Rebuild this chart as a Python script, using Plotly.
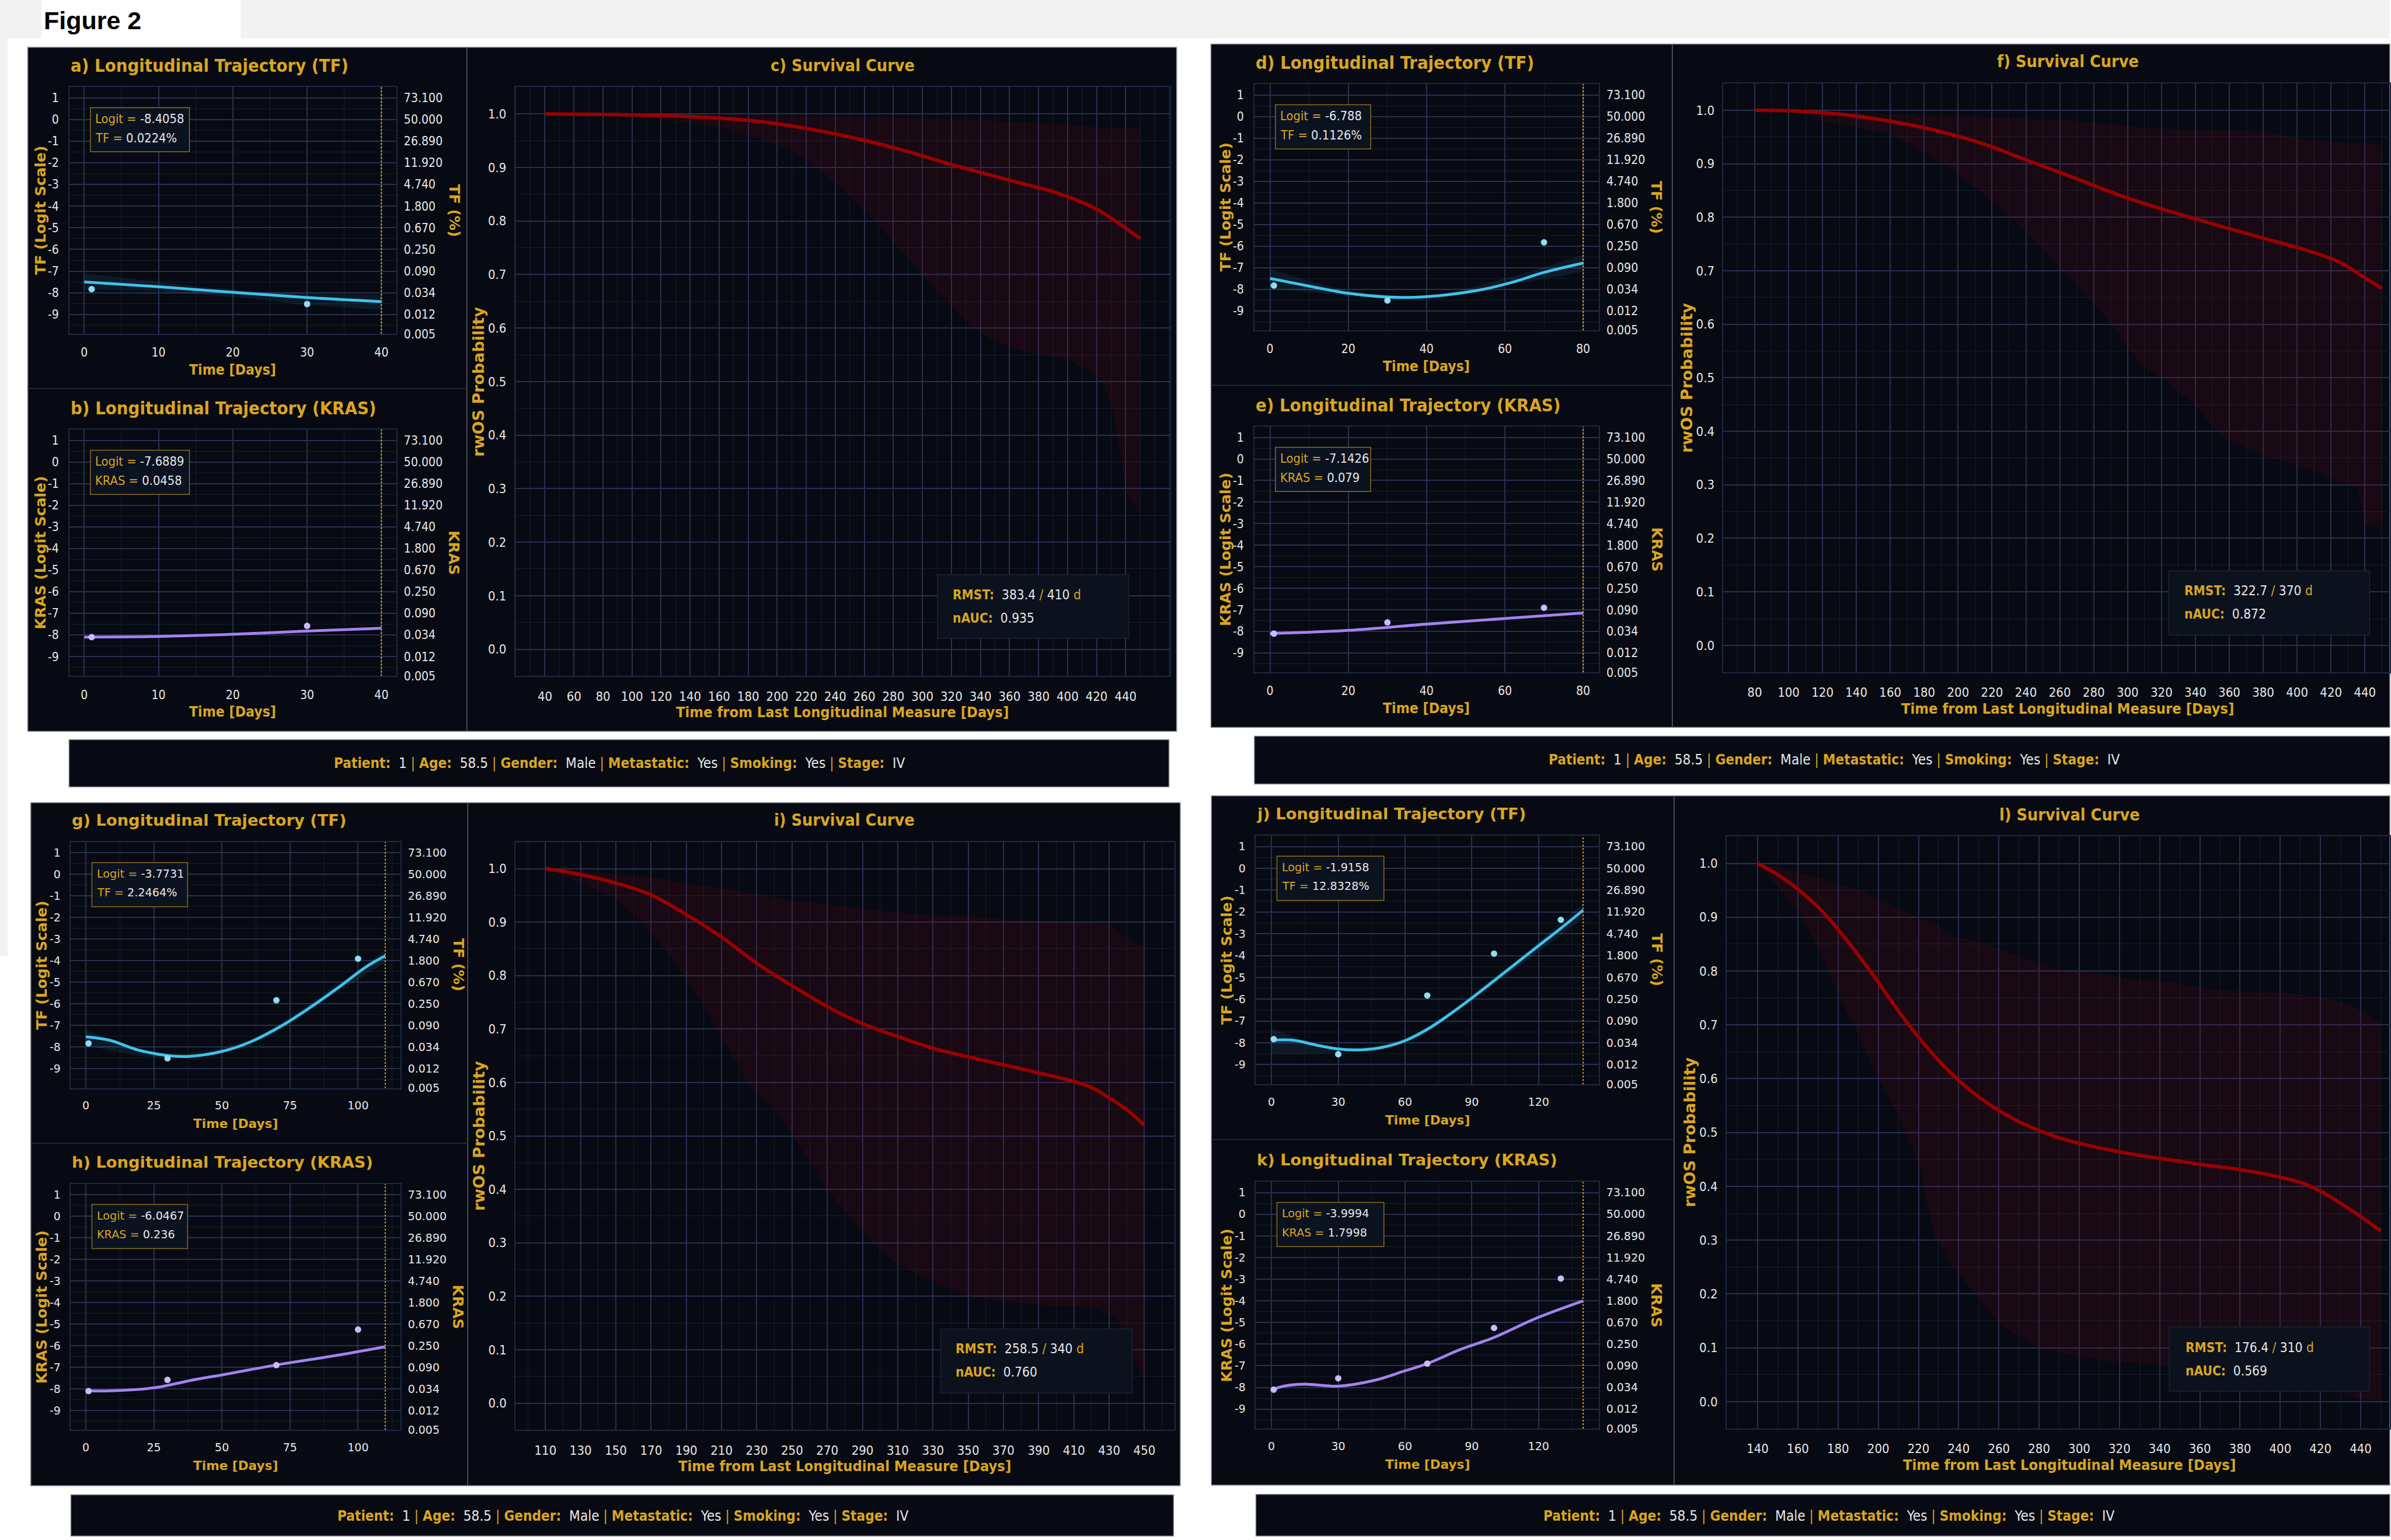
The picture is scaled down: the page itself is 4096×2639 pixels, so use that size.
import subprocess
import plotly.graph_objects as go

# ======================= DATA =======================
# shared observations of the same patient (logit scale)
OBS_DAYS = [1, 30, 70, 100, 130]
OBS_TF = [-7.83, -8.52, -5.83, -3.91, -2.36]
OBS_KRAS = [-8.10, -7.58, -6.90, -5.25, -2.97]
N_OBS = [2, 3, 4, 5]            # observations available in each landmark panel
T_END = [40, 80, 110, 140]      # last longitudinal measure (dotted line)

# fitted trajectories (logit)
A_TF_DAYS = [0, 10, 20, 30, 40]
A_TF_FIT = [-7.50, -7.72, -7.98, -8.22, -8.41]
A_TF_LO = [-7.85, -7.95, -8.20, -8.55, -8.78]
A_TF_HI = [-7.10, -7.50, -7.85, -8.05, -8.10]
B_KRAS_DAYS = [0, 10, 20, 30, 40]
B_KRAS_FIT = [-8.10, -8.07, -7.97, -7.82, -7.69]

D_TF_DAYS = [0, 11, 20, 30, 37, 45, 54, 62, 70, 80]
D_TF_FIT = [-7.50, -7.89, -8.19, -8.36, -8.37, -8.26, -8.02, -7.67, -7.22, -6.79]
D_TF_BAND_DAYS = [0, 20, 40, 60, 80]
D_TF_LO = [-7.95, -8.30, -8.47, -7.85, -7.20]
D_TF_HI = [-7.05, -8.05, -8.27, -7.50, -6.40]
E_KRAS_DAYS = [0, 20, 40, 60, 80]
E_KRAS_FIT = [-8.10, -7.95, -7.66, -7.40, -7.14]

G_TF_DAYS = [0, 9, 19, 30, 38, 51, 61, 72, 82, 93, 103, 110]
G_TF_FIT = [-7.52, -7.69, -8.13, -8.39, -8.43, -8.17, -7.73, -7.01, -6.20, -5.22, -4.28, -3.77]
G_TF_BAND_DAYS = [0, 30, 60, 90, 110]
G_TF_LO = [-7.90, -8.50, -7.90, -5.65, -4.10]
G_TF_HI = [-7.20, -8.28, -7.65, -5.30, -3.50]
H_KRAS_DAYS = [0, 9, 25, 40, 51, 70, 82, 93, 110]
H_KRAS_FIT = [-8.08, -8.09, -7.95, -7.57, -7.33, -6.89, -6.65, -6.43, -6.05]

J_TF_DAYS = [0, 10, 20, 30, 40, 50, 60, 70, 80, 90, 100, 110, 120, 130, 140]
J_TF_FIT = [-7.88, -7.88, -8.10, -8.28, -8.32, -8.20, -7.90, -7.38, -6.70, -5.95,
            -5.15, -4.35, -3.55, -2.75, -1.92]
J_TF_BAND_DAYS = [0, 30, 60, 100, 140]
J_TF_LO = [-8.50, -8.45, -8.02, -5.30, -2.30]
J_TF_HI = [-7.35, -8.18, -7.78, -5.00, -1.60]
K_KRAS_DAYS = [0, 5.5, 15, 30, 46, 60, 70, 85, 100, 119, 140]
K_KRAS_FIT = [-8.12, -7.94, -7.85, -7.94, -7.68, -7.23, -6.90, -6.24, -5.69, -4.80, -4.00]

# survival curves with confidence band
C_DAYS = [40, 80, 119, 161, 199, 241, 280, 322, 360, 392, 418, 434, 450]
C_SURV = [1.000, 0.999, 0.997, 0.992, 0.982, 0.962, 0.937, 0.904, 0.876, 0.853, 0.825, 0.798, 0.767]
C_UP_DAYS = [40, 119, 241, 296, 344, 392, 424, 450]
C_UP = [1.000, 0.998, 0.996, 0.992, 0.988, 0.982, 0.974, 0.973]
C_LO_DAYS = [40, 119, 161, 193, 219, 241, 264, 283, 309, 334, 350, 370, 402, 424, 431, 441, 450]
C_LO = [1.000, 0.991, 0.974, 0.950, 0.919, 0.868, 0.810, 0.751, 0.673, 0.603, 0.575, 0.556, 0.540, 0.503, 0.447, 0.294, 0.249]

F_DAYS = [80, 101, 132, 159, 187, 215, 242, 270, 298, 325, 353, 380, 408, 425, 439, 450]
F_SURV = [1.000, 0.999, 0.992, 0.980, 0.962, 0.937, 0.905, 0.872, 0.838, 0.811, 0.785, 0.761, 0.736, 0.716, 0.689, 0.667]
F_UP_DAYS = [80, 104, 132, 159, 198, 242, 270, 298, 311, 353, 380, 408, 450]
F_UP = [1.000, 0.999, 0.996, 0.9925, 0.989, 0.984, 0.980, 0.972, 0.966, 0.964, 0.960, 0.944, 0.935]
F_LO_DAYS = [80, 104, 126, 159, 176, 198, 220, 237, 256, 275, 292, 309, 320, 339, 356, 381, 408, 419, 436, 440, 448, 450]
F_LO = [1.000, 0.996, 0.976, 0.956, 0.929, 0.885, 0.830, 0.783, 0.720, 0.657, 0.594, 0.520, 0.500, 0.450, 0.389, 0.354, 0.329, 0.313, 0.293, 0.227, 0.222, 0.186]

I_DAYS = [110, 130, 150, 170, 190, 210, 230, 250, 270, 290, 310, 330, 350, 370, 390, 410, 421, 430, 440, 450]
I_SURV = [1.000, 0.989, 0.973, 0.951, 0.914, 0.872, 0.823, 0.781, 0.742, 0.710, 0.686, 0.664, 0.648, 0.633, 0.618, 0.602, 0.589, 0.571, 0.549, 0.520]
I_UP_DAYS = [110, 130, 150, 170, 190, 210, 230, 250, 270, 290, 310, 330, 350, 370, 390, 410, 430, 437, 450]
I_UP = [1.000, 0.996, 0.989, 0.984, 0.973, 0.963, 0.953, 0.940, 0.934, 0.925, 0.918, 0.913, 0.912, 0.905, 0.902, 0.900, 0.898, 0.876, 0.854]
I_LO_DAYS = [110, 130, 150, 165, 180, 194, 210, 225, 241, 257, 273, 289, 305, 321, 337, 350, 370, 390, 410, 421, 435, 444, 450]
I_LO = [1.000, 0.973, 0.943, 0.898, 0.841, 0.775, 0.686, 0.598, 0.545, 0.465, 0.386, 0.324, 0.271, 0.240, 0.218, 0.200, 0.191, 0.184, 0.182, 0.178, 0.157, 0.085, 0.040]

L_DAYS = [140, 150, 160, 170, 180, 190, 200, 210, 220, 230, 240, 250, 260, 270, 280, 290, 300, 320, 340, 360, 380, 400, 411, 420, 431, 440, 450]
L_SURV = [1.000, 0.979, 0.952, 0.919, 0.877, 0.830, 0.779, 0.726, 0.677, 0.634, 0.597, 0.566, 0.541, 0.520, 0.504, 0.490, 0.480, 0.464, 0.452, 0.441, 0.431, 0.417, 0.406, 0.391, 0.366, 0.344, 0.317]
L_UP_DAYS = [140, 150, 160, 170, 180, 190, 200, 210, 220, 230, 234, 250, 270, 290, 310, 320, 329, 340, 360, 369, 400, 420, 434, 450]
L_UP = [1.000, 0.992, 0.983, 0.974, 0.961, 0.952, 0.934, 0.917, 0.899, 0.885, 0.868, 0.854, 0.828, 0.801, 0.797, 0.788, 0.783, 0.783, 0.770, 0.764, 0.761, 0.752, 0.739, 0.703]
L_LO_DAYS = [140, 150, 160, 170, 180, 190, 200, 210, 220, 228, 238, 250, 260, 270, 280, 290, 310, 340, 360, 380, 400, 420, 439, 450]
L_LO = [1.000, 0.956, 0.912, 0.841, 0.757, 0.681, 0.601, 0.530, 0.441, 0.308, 0.246, 0.193, 0.144, 0.122, 0.100, 0.091, 0.077, 0.068, 0.064, 0.058, 0.051, 0.033, 0.006, 0.002]

SURV_TICK_START = [40, 80, 110, 140]
SURV_TICK_END = [440, 440, 450, 440]

# text content
INFO_KEYS = ['Patient', 'Age', 'Gender', 'Metastatic', 'Smoking', 'Stage']
INFO_VALS = ['1', '58.5', 'Male', 'Yes', 'Yes', 'IV']
RMST = ['383.4', '322.7', '258.5', '176.4']
HORIZON = ['410', '370', '340', '310']
NAUC = ['0.935', '0.872', '0.760', '0.569']
TF_LAST_LOGIT = ['-8.4058', '-6.788', '-3.7731', '-1.9158']
TF_LAST_PCT = ['0.0224%', '0.1126%', '2.2464%', '12.8328%']
KRAS_LAST_LOGIT = ['-7.6889', '-7.1426', '-6.0467', '-3.9994']
KRAS_LAST_VAL = ['0.0458', '0.079', '0.236', '1.7998']
LEFT_TICK_VALS = [1, 0, -1, -2, -3, -4, -5, -6, -7, -8, -9]
LEFT_TICK_TEXT = ['1', '0', '-1', '-2', '-3', '-4', '-5', '-6', '-7', '-8', '-9']
RIGHT_TICK_VALS = [1, 0, -1, -2, -3, -4, -5, -6, -7, -8, -9, -9.899]
RIGHT_TICK_TEXT = ['73.100', '50.000', '26.890', '11.920', '4.740', '1.800', '0.670',
                   '0.250', '0.090', '0.034', '0.012', '0.005']
LETTERS = [('a', 'b', 'c'), ('d', 'e', 'f'), ('g', 'h', 'i'), ('j', 'k', 'l')]

# ======================= STYLE / LAYOUT =======================
W, H = 4096, 2639
RW, RH = 1568.0, 1010.0   # layout grid in reference-view units


def fx(x):
    return x / RW


def fy(y):
    return 1 - y / RH


def has_font(name):
    try:
        out = subprocess.run(['fc-list', ':', 'family'], capture_output=True,
                             text=True, timeout=20).stdout.lower()
        return name.lower() in out
    except Exception:
        return False


COND = has_font('DejaVu Sans Condensed')
K = 1.1 if COND else 1.0
FAM_C = 'DejaVu Sans Condensed' if COND else 'DejaVu Sans'
FAM_N = 'DejaVu Sans'

BG = '#070a12'
GOLD = '#daa520'
WHITE = '#e8e8e8'
GRID = '#28304e'
GRID_MINOR = '#161c2d'
FRAME = '#1f2842'
TF_LINE = '#3ec3ea'
TF_DOT = '#8fdcf4'
TF_BAND = 'rgba(70,170,230,0.10)'
KR_LINE = '#a283f0'
KR_DOT = '#cbbafc'
SURV_LINE = '#990000'
SURV_FILL = 'rgba(140,10,30,0.13)'

STY_TOP = dict(fam=FAM_C, title=28 * K, tick=19.2 * K, xtitle=22.4 * K, box=19.8 * K)
STY_BOT = dict(fam=FAM_N, title=27.3, tick=19.0, xtitle=21.6, box=19.2)
VT = 25
SV = dict(fam=FAM_C, title=26 * K, tick=20 * K, xtitle=23 * K, ytitle=27, rmst=20.5 * K)
BAR_SIZE = 22 * K

GEOM = [
    dict(bg=(18.2, 31.1, 772.0, 481.8), vdiv=306.3, hdiv=256.0,
         tf=(45.5, 57.3, 260.0, 220.0), kr=(45.5, 283.0, 260.0, 445.4),
         sv=(338.0, 57.4, 767.6, 445.4), sv_cx=552.8,
         bar=(45.3, 487.3, 767.0, 518.5), bar_text=(406.2, 503.0),
         rmst_box=(615.0, 378.6, 740.6, 420.5), rmst_text=(624.2, 391.6, 407.2),
         boxw=65.0, sty=STY_TOP, xr=[-2, 42], dtick=10, sxr=[19.5, 470.5]),
    dict(bg=(794.5, 29.0, 1568.0, 479.2), vdiv=1097.2, hdiv=253.8,
         tf=(823.0, 55.4, 1049.0, 217.6), kr=(823.0, 281.1, 1049.0, 443.0),
         sv=(1130.7, 55.0, 1568.0, 442.8), sv_cx=1356.7,
         bar=(823.0, 485.0, 1568.0, 516.5), bar_text=(1203.5, 500.5),
         rmst_box=(1423.0, 376.0, 1554.7, 418.3), rmst_text=(1432.3, 389.0, 404.4),
         boxw=62.5, sty=STY_TOP, xr=[-4, 84], dtick=20, sxr=[61.5, 454.7]),
    dict(bg=(20.2, 528.8, 774.4, 978.9), vdiv=306.9, hdiv=753.3,
         tf=(46.5, 554.7, 262.6, 716.9), kr=(46.5, 779.9, 262.6, 942.1),
         sv=(338.2, 554.7, 770.5, 942.1), sv_cx=554.1,
         bar=(46.5, 984.8, 770.0, 1012.0), bar_text=(408.7, 998.9),
         rmst_box=(617.2, 875.6, 742.8, 917.8), rmst_text=(626.3, 888.5, 904.0),
         boxw=62.8, sty=STY_BOT, xr=[-5.5, 115.5], dtick=25, sxr=[93.0, 467.0]),
    dict(bg=(794.8, 524.3, 1568.0, 978.5), vdiv=1098.4, hdiv=750.8,
         tf=(824.0, 550.5, 1048.9, 714.4), kr=(824.0, 778.6, 1048.9, 941.2),
         sv=(1132.8, 551.1, 1568.0, 941.2), sv_cx=1357.8,
         bar=(824.0, 984.5, 1568.0, 1012.0), bar_text=(1200.0, 998.9),
         rmst_box=(1423.3, 874.3, 1554.7, 916.6), rmst_text=(1433.2, 887.6, 903.3),
         boxw=70.2, sty=STY_BOT, xr=[-7, 147], dtick=30, sxr=[124.5, 454.5]),
]

TF_SERIES = [
    (A_TF_DAYS, A_TF_FIT, A_TF_DAYS, A_TF_LO, A_TF_HI),
    (D_TF_DAYS, D_TF_FIT, D_TF_BAND_DAYS, D_TF_LO, D_TF_HI),
    (G_TF_DAYS, G_TF_FIT, G_TF_BAND_DAYS, G_TF_LO, G_TF_HI),
    (J_TF_DAYS, J_TF_FIT, J_TF_BAND_DAYS, J_TF_LO, J_TF_HI),
]
KRAS_SERIES = [(B_KRAS_DAYS, B_KRAS_FIT), (E_KRAS_DAYS, E_KRAS_FIT),
               (H_KRAS_DAYS, H_KRAS_FIT), (K_KRAS_DAYS, K_KRAS_FIT)]
SURV_SERIES = [
    (C_DAYS, C_SURV, C_UP_DAYS, C_UP, C_LO_DAYS, C_LO),
    (F_DAYS, F_SURV, F_UP_DAYS, F_UP, F_LO_DAYS, F_LO),
    (I_DAYS, I_SURV, I_UP_DAYS, I_UP, I_LO_DAYS, I_LO),
    (L_DAYS, L_SURV, L_UP_DAYS, L_UP, L_LO_DAYS, L_LO),
]

# ======================= BUILD =======================
fig = go.Figure()
layout = dict(width=W, height=H, margin=dict(l=0, r=0, t=0, b=0),
              paper_bgcolor='white', plot_bgcolor=BG, showlegend=False)
shapes, annotations = [], []
counter = {'x': 0, 'y': 0}


def nid(kind):
    counter[kind] += 1
    n = counter[kind]
    return (kind if n == 1 else f'{kind}{n}'), (f'{kind}axis' if n == 1 else f'{kind}axis{n}')


def rect(x0, y0, x1, y1, fill, line=None, lw=0, layer='below'):
    shapes.append(dict(type='rect', xref='paper', yref='paper',
                       x0=fx(x0), x1=min(1.0, fx(x1)), y0=fy(y1), y1=fy(y0),
                       fillcolor=fill, line=dict(color=line or fill, width=lw), layer=layer))


def hline(x0, x1, y, color, lw=1.5):
    shapes.append(dict(type='line', xref='paper', yref='paper', x0=fx(x0), x1=min(1.0, fx(x1)),
                       y0=fy(y), y1=fy(y), line=dict(color=color, width=lw), layer='below'))


def vline(x, y0, y1, color, lw=1.5):
    shapes.append(dict(type='line', xref='paper', yref='paper', x0=fx(x), x1=fx(x),
                       y0=fy(y0), y1=fy(y1), line=dict(color=color, width=lw), layer='below'))


def text(x, y, s, size, fam, color=WHITE, xanchor='center', yanchor='middle', angle=0):
    annotations.append(dict(x=fx(x), y=fy(y), xref='paper', yref='paper', text=s,
                            showarrow=False, xanchor=xanchor, yanchor=yanchor,
                            textangle=angle, font=dict(family=fam, size=size, color=color)))


def gold(s):
    return f"<span style='color:{GOLD}'>{s}</span>"


def add_long(box, xr, dtick, fit_x, fit_y, obs_x, obs_y, line_col, dot_col, t_end,
             title, ytitle, rtitle, info1, info2, box_w, sty, band=None):
    x0, y0, x1, y1 = box
    xref, xkey = nid('x')
    yref, ykey = nid('y')
    y2ref, y2key = nid('y')
    tfont = dict(family=sty['fam'], size=sty['tick'], color=WHITE)
    layout[xkey] = dict(domain=[fx(x0), fx(x1)], range=xr, anchor=yref,
                        tickmode='linear', tick0=0, dtick=dtick, ticks='', ticklabelstandoff=12,
                        tickfont=tfont, showgrid=True, gridcolor=GRID, gridwidth=1.6,
                        minor=dict(tickmode='linear', tick0=0, dtick=dtick / 2, showgrid=True,
                                   gridcolor=GRID_MINOR, gridwidth=1),
                        showline=True, mirror=True, linecolor=FRAME, linewidth=1.5, zeroline=False)
    layout[ykey] = dict(domain=[fy(y1), fy(y0)], range=[-9.9, 1.5], anchor=xref,
                        tickmode='array', tickvals=LEFT_TICK_VALS, ticktext=LEFT_TICK_TEXT,
                        ticks='', ticklabelstandoff=12,
                        tickfont=tfont, showgrid=True, gridcolor=GRID, gridwidth=1.6,
                        minor=dict(tickmode='linear', tick0=0, dtick=0.5, showgrid=True,
                                   gridcolor=GRID_MINOR, gridwidth=1),
                        showline=True, mirror=True, linecolor=FRAME, linewidth=1.5, zeroline=False)
    layout[y2key] = dict(domain=[fy(y1), fy(y0)], range=[-9.9, 1.5], anchor=xref,
                         overlaying=yref, side='right', tickmode='array',
                         tickvals=RIGHT_TICK_VALS, ticktext=RIGHT_TICK_TEXT, ticks='',
                         ticklabelstandoff=12, tickfont=tfont, showgrid=False,
                         showline=False, zeroline=False)
    if band is not None:
        bx, blo, bhi = band
        fig.add_trace(go.Scatter(x=bx, y=bhi, mode='lines', line=dict(width=0, shape='spline'),
                                 xaxis=xref, yaxis=yref, hoverinfo='skip'))
        fig.add_trace(go.Scatter(x=bx, y=blo, mode='lines', line=dict(width=0, shape='spline'),
                                 fill='tonexty', fillcolor=TF_BAND,
                                 xaxis=xref, yaxis=yref, hoverinfo='skip'))
    fig.add_trace(go.Scatter(x=fit_x, y=fit_y, mode='lines',
                             line=dict(color=line_col, width=4.8, shape='spline'),
                             xaxis=xref, yaxis=yref))
    fig.add_trace(go.Scatter(x=obs_x, y=obs_y, mode='markers',
                             marker=dict(color=dot_col, size=11, line=dict(width=0)),
                             xaxis=xref, yaxis=yref))
    fig.add_trace(go.Scatter(x=[t_end, t_end], y=[-9.9, 1.5], mode='lines',
                             line=dict(color=GOLD, width=2, dash='dot'),
                             xaxis=xref, yaxis=y2ref))
    # titles
    text(x0, y0 - 14.3, f'<b>{title}</b>', sty['title'], sty['fam'], GOLD, xanchor='left')
    text(x0 - 19.0, (y0 + y1) / 2, f'<b>{ytitle}</b>', VT, FAM_N, GOLD, angle=-90)
    text(x1 + 38.0, (y0 + y1) / 2, f'<b>{rtitle}</b>', VT, FAM_N, GOLD, angle=90)
    text((x0 + x1) / 2, y1 + 23.5, '<b>Time [Days]</b>', sty['xtitle'], sty['fam'], GOLD)
    # value box
    rect(x0 + 13.8, y0 + 13.6, x0 + 13.8 + box_w, y0 + 42.7, '#0b1220', '#8c6d1f', 1.5, layer='above')
    text(x0 + 16.3, y0 + 21.0, info1, sty['box'], sty['fam'], WHITE, xanchor='left')
    text(x0 + 16.3, y0 + 33.5, info2, sty['box'], sty['fam'], WHITE, xanchor='left')


def add_surv(g, idx):
    x0, y0, x1, y1 = g['sv']
    days, surv, ux, uy, lx, ly = SURV_SERIES[idx]
    xref, xkey = nid('x')
    yref, ykey = nid('y')
    tfont = dict(family=SV['fam'], size=SV['tick'], color=WHITE)
    tickvals = list(range(SURV_TICK_START[idx], SURV_TICK_END[idx] + 1, 20))
    layout[xkey] = dict(domain=[fx(x0), min(1.0, fx(x1))], range=g['sxr'], anchor=yref,
                        tickmode='array', tickvals=tickvals, ticks='', ticklabelstandoff=14,
                        tickfont=tfont, showgrid=True, gridcolor=GRID, gridwidth=1.6,
                        minor=dict(tickmode='linear', tick0=0, dtick=10, showgrid=True,
                                   gridcolor=GRID_MINOR, gridwidth=1),
                        showline=True, mirror=True, linecolor=FRAME, linewidth=1.5, zeroline=False)
    layout[ykey] = dict(domain=[fy(y1), fy(y0)], range=[-0.05, 1.05], anchor=xref,
                        tickmode='linear', tick0=0, dtick=0.1, tickformat='.1f', ticks='',
                        ticklabelstandoff=9, tickfont=tfont, showgrid=True, gridcolor=GRID,
                        gridwidth=1.6,
                        minor=dict(tickmode='linear', tick0=0, dtick=0.05, showgrid=True,
                                   gridcolor=GRID_MINOR, gridwidth=1),
                        showline=True, mirror=True, linecolor=FRAME, linewidth=1.5, zeroline=False)
    fig.add_trace(go.Scatter(x=ux, y=uy, mode='lines', line=dict(width=0),
                             xaxis=xref, yaxis=yref, hoverinfo='skip'))
    fig.add_trace(go.Scatter(x=lx, y=ly, mode='lines', line=dict(width=0), fill='tonexty',
                             fillcolor=SURV_FILL, xaxis=xref, yaxis=yref, hoverinfo='skip'))
    fig.add_trace(go.Scatter(x=days, y=surv, mode='lines',
                             line=dict(color=SURV_LINE, width=6, shape='spline'),
                             xaxis=xref, yaxis=yref))
    letter = LETTERS[idx][2]
    text(g['sv_cx'], y0 - 14.5, f'<b>{letter}) Survival Curve</b>', SV['title'], SV['fam'], GOLD)
    text(g['sv_cx'], y1 + 24.0, '<b>Time from Last Longitudinal Measure [Days]</b>',
         SV['xtitle'], SV['fam'], GOLD)
    text(x0 - 24.0, (y0 + y1) / 2, '<b>rwOS Probability</b>', SV['ytitle'], FAM_N, GOLD, angle=-90)
    bx0, by0, bx1, by1 = g['rmst_box']
    rect(bx0, by0, bx1, by1, '#0b111d', '#1a2438', 1.5, layer='above')
    tx, ty1, ty2 = g['rmst_text']
    nb = '\u00a0'
    line1 = (gold('<b>RMST:</b>') + nb * 2 + RMST[idx] + nb + gold('/') + nb + HORIZON[idx]
             + nb + gold('d'))
    line2 = gold('<b>nAUC:</b>') + nb * 2 + NAUC[idx]
    text(tx, ty1, line1, SV['rmst'], SV['fam'], WHITE, xanchor='left')
    text(tx, ty2, line2, SV['rmst'], SV['fam'], WHITE, xanchor='left')


# ---- page decorations ----
rect(0, 0, RW, 25.3, '#f2f2f2')
rect(27.3, 0, 157.9, 25.7, '#ffffff')
rect(0, 25.3, 5.0, 630.0, '#f2f2f2')
text(27.8, 13.4, '<b>Figure 2</b>', 43, 'Liberation Sans', '#000000', xanchor='left')

nb = '\u00a0'
info_str = (nb + gold('|') + nb).join(gold(f'<b>{k}:</b>') + nb * 2 + v
                                       for k, v in zip(INFO_KEYS, INFO_VALS))

for i, g in enumerate(GEOM):
    bx0, by0, bx1, by1 = g['bg']
    rect(bx0, by0, bx1, by1, BG, '#8a8d96', 1.5)
    vline(g['vdiv'], by0, by1, '#5d6170', 1.5)
    hline(bx0, g['vdiv'], g['hdiv'], '#2b303c', 1.5)
    r0, r1, r2, r3 = g['bar']
    rect(r0, r1, r2, r3, BG, '#8a8d96', 1.5)
    text(g['bar_text'][0], g['bar_text'][1], info_str, BAR_SIZE, FAM_C, WHITE)

    n = N_OBS[i]
    la, lb, _ = LETTERS[i]
    tf_x, tf_y, bx, blo, bhi = TF_SERIES[i]
    add_long(g['tf'], g['xr'], g['dtick'], tf_x, tf_y, OBS_DAYS[:n], OBS_TF[:n],
             TF_LINE, TF_DOT, T_END[i], f'{la}) Longitudinal Trajectory (TF)',
             'TF (Logit Scale)', 'TF (%)',
             gold('Logit = ') + TF_LAST_LOGIT[i], gold('TF = ') + TF_LAST_PCT[i],
             g['boxw'], g['sty'], band=(bx, blo, bhi))
    kx, ky = KRAS_SERIES[i]
    add_long(g['kr'], g['xr'], g['dtick'], kx, ky, OBS_DAYS[:n], OBS_KRAS[:n],
             KR_LINE, KR_DOT, T_END[i], f'{lb}) Longitudinal Trajectory (KRAS)',
             'KRAS (Logit Scale)', 'KRAS',
             gold('Logit = ') + KRAS_LAST_LOGIT[i], gold('KRAS = ') + KRAS_LAST_VAL[i],
             g['boxw'], g['sty'])
    add_surv(g, i)

layout['shapes'] = shapes
layout['annotations'] = annotations
fig.update_layout(**layout)
fig.write_html('out.html')
